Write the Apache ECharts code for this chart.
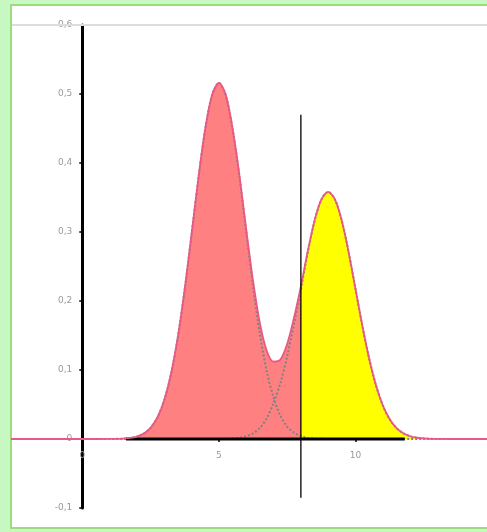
<!DOCTYPE html>
<html>
<head>
<meta charset="utf-8">
<script src="https://cdn.jsdelivr.net/npm/echarts@6/dist/echarts.min.js"></script>
<style>
  html, body { margin:0; padding:0; width:487px; height:532px; overflow:hidden; background:#c8f8c2; }
  #frame { position:absolute; left:10px; top:4px; width:477px; height:525px; background:#ffffff;
           border-left:2px solid #9cdc7c; border-top:2px solid #9cdc7c; border-bottom:2px solid #9cdc7c; box-sizing:border-box; }
  #chart { position:absolute; left:0; top:0; width:487px; height:532px; }
</style>
</head>
<body>
<div id="frame"></div>
<div id="chart"></div>
<script>
const xs = [-3, 0, 1, 1.25, 1.5, 1.75, 2, 2.25, 2.5, 2.75, 3, 3.25, 3.5, 3.75, 4, 4.25, 4.5, 4.75,
  5, 5.25, 5.5, 5.75, 6, 6.25, 6.5, 6.75, 7, 7.25, 7.5, 7.75, 8, 8.25, 8.5, 8.75,
  9, 9.25, 9.5, 9.75, 10, 10.25, 10.5, 10.75, 11, 11.25, 11.5, 11.75, 12, 12.25, 12.5, 12.75, 13, 14, 15];
// left component (dotted grey)
const comp1 = [0, 0, 0.0001, 0.0002, 0.0006, 0.0015, 0.0035, 0.0078, 0.0162, 0.0312, 0.0563, 0.0946, 0.1483, 0.2171, 0.2966, 0.3779, 0.4493, 0.4985,
  0.516, 0.4985, 0.4493, 0.381, 0.300, 0.221, 0.152, 0.098, 0.060, 0.034, 0.018, 0.009, 0.004, 0.0015, 0.0006, 0.0002,
  0.0001, 0, 0, 0, 0, 0, 0, 0, 0, 0, 0, 0, 0, 0, 0, 0, 0, 0, 0];
// right component (dotted grey)
const comp2 = [0, 0, 0, 0, 0, 0, 0, 0, 0, 0, 0, 0, 0, 0, 0, 0, 0, 0,
  0.0001, 0.0003, 0.0008, 0.0018, 0.0040, 0.0082, 0.0160, 0.030, 0.052, 0.081, 0.120, 0.167, 0.2171, 0.2702, 0.3159, 0.3470,
  0.358, 0.3470, 0.3159, 0.2702, 0.2171, 0.1639, 0.1162, 0.0775, 0.0485, 0.0285, 0.0157, 0.0082, 0.0040, 0.0018, 0.0008, 0.0003, 0.0001, 0, 0];
// mixture density (pink line)
const mixture = [0, 0, 0.0001, 0.0002, 0.0006, 0.0015, 0.0035, 0.0078, 0.0162, 0.0312, 0.0563, 0.0946, 0.1483, 0.2171, 0.2966, 0.3779, 0.4493, 0.4985,
  0.5161, 0.4988, 0.4501, 0.3828, 0.3040, 0.2292, 0.1680, 0.128, 0.112, 0.115, 0.138, 0.176, 0.2211, 0.2717, 0.3165, 0.3472,
  0.3581, 0.3470, 0.3159, 0.2702, 0.2171, 0.1639, 0.1162, 0.0775, 0.0485, 0.0285, 0.0157, 0.0082, 0.0040, 0.0018, 0.0008, 0.0003, 0.0001, 0, 0];
const cutX = 8;
const cutLineY = [-0.085, 0.47];
const baseSpan = [1.6, 11.8];
const xLabelValues = [0, 5, 10, 15];
const topGridValue = 0.6;

const X_MIN = -2.57, X_MAX = 14.81, Y_MIN = -0.1, Y_MAX = 0.6;
const GRID = { left: 12, right: 0, top: 25, bottom: 24 };
const W = 487, H = 532;
const plotW = W - GRID.left - GRID.right, plotH = H - GRID.top - GRID.bottom;
// shift axes onto the data zero lines (offset derived from the axis scales)
const yAxisOffset = -plotW * (0 - X_MIN) / (X_MAX - X_MIN);
const xAxisOffset = -plotH * (0 - Y_MIN) / (Y_MAX - Y_MIN);

const pts = (ys) => xs.map((x, i) => [x, ys[i]]);
const leftFill = xs.map((x, i) => [x, mixture[i]]).filter(p => p[0] <= cutX && p[0] >= 1);
const rightFill = xs.map((x, i) => [x, mixture[i]]).filter(p => p[0] >= cutX && p[0] <= 13);

const labelFont = { color: '#9a9a9a', fontSize: 9, fontFamily: 'DejaVu Sans, Arial, sans-serif' };
const chart = echarts.init(document.getElementById('chart'), null, { renderer: 'canvas' });
chart.setOption({
  backgroundColor: 'transparent',
  animation: false,
  grid: Object.assign({ containLabel: false, outerBoundsMode: 'none' }, GRID),
  xAxis: {
    type: 'value', min: X_MIN, max: X_MAX, position: 'bottom', offset: xAxisOffset,
    axisLine: { show: false, onZero: false },
    splitLine: { show: false },
    axisTick: { show: true, length: 3, lineStyle: { color: '#000', width: 1.5 }, customValues: [5, 10] },
    axisLabel: Object.assign({ margin: 12, customValues: xLabelValues, formatter: v => String(v) }, labelFont)
  },
  yAxis: {
    type: 'value', min: Y_MIN, max: Y_MAX, interval: 0.1, position: 'left', offset: yAxisOffset,
    axisLine: { show: true, onZero: false, lineStyle: { color: '#000', width: 3 } },
    axisTick: { show: true, length: 3, lineStyle: { color: '#000', width: 1.5 } },
    splitLine: { show: false },
    axisLabel: Object.assign({ margin: 10, formatter: v => {
      const r = Math.round(v * 10) / 10;
      return r === 0 ? '0' : r.toFixed(1).replace('.', ',');
    } }, labelFont)
  },
  series: [
    { type: 'line', data: leftFill, smooth: 0.3, symbol: 'none', lineStyle: { width: 0 },
      areaStyle: { color: '#ff8080', opacity: 1 }, z: 1,
      markLine: { silent: true, symbol: 'none', label: { show: false },
        lineStyle: { color: '#dddddd', width: 2, type: 'solid' }, data: [{ yAxis: topGridValue }] } },
    { type: 'line', data: rightFill, smooth: 0.3, symbol: 'none', lineStyle: { width: 0 },
      areaStyle: { color: '#ffff00', opacity: 1 }, z: 1 },
    { type: 'line', data: pts(comp1), smooth: 0.3, symbol: 'none', lineStyle: { color: '#808080', width: 2, type: [2, 2] }, z: 2 },
    { type: 'line', data: pts(comp2), smooth: 0.3, symbol: 'none', lineStyle: { color: '#808080', width: 2, type: [2, 2] }, z: 2 },
    { type: 'line', data: baseSpan.map(x => [x, 0]), symbol: 'none', lineStyle: { color: '#000', width: 3 }, z: 3 },
    { type: 'line', data: pts(mixture), smooth: 0.3, symbol: 'none', lineStyle: { color: '#e85a84', width: 1.8 }, z: 4 },
    { type: 'line', data: cutLineY.map(y => [cutX, y]), symbol: 'none', lineStyle: { color: '#000', width: 1.3 }, z: 5 }
  ]
});
</script>
</body>
</html>
